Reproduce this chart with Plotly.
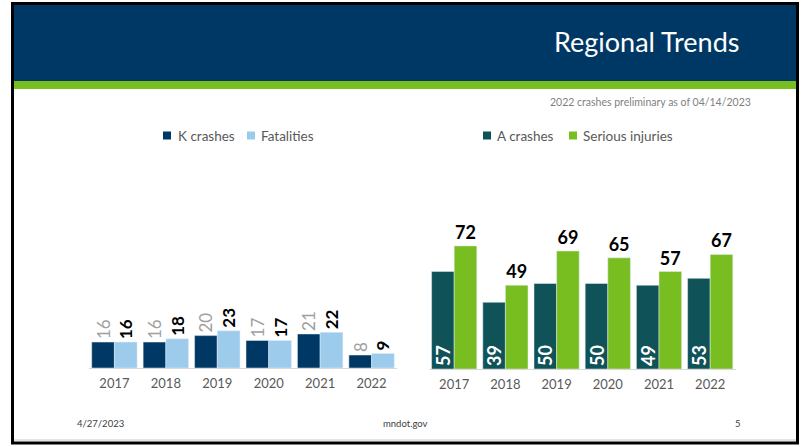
import plotly.graph_objects as go

W, H = 808, 447

years = ['2017', '2018', '2019', '2020', '2021', '2022']
k_crashes = [16, 16, 20, 17, 21, 8]
fatalities = [16, 18, 23, 17, 22, 9]
a_crashes = [57, 39, 50, 50, 49, 53]
serious_injuries = [72, 49, 69, 65, 57, 67]

NAVY = '#003865'
LIGHT_BLUE = '#9DCBEC'
TEAL = '#0F5257'
GREEN = '#78BE20'
FONT = 'Lato'


def px(x):
    return x / W


def py(y):
    return 1 - y / H


fig = go.Figure()

fig.add_trace(go.Bar(
    x=years, y=k_crashes, name='K crashes', marker_color=NAVY,
    text=k_crashes, textposition='outside', textangle=-90,
    textfont=dict(family=FONT, size=17, color='#A0A0A0'),
    xaxis='x', yaxis='y', cliponaxis=False, constraintext='none'))
fig.add_trace(go.Bar(
    x=years, y=fatalities, name='Fatalities', marker_color=LIGHT_BLUE,
    text=fatalities, textposition='outside', textangle=-90,
    textfont=dict(family=FONT, size=17, color='#000000', weight='bold'),
    xaxis='x', yaxis='y', cliponaxis=False, constraintext='none'))
fig.add_trace(go.Bar(
    x=years, y=a_crashes, name='A crashes', marker_color=TEAL,
    text=a_crashes, textposition='inside', insidetextanchor='start', textangle=-90,
    textfont=dict(family=FONT, size=18, color='#FFFFFF', weight='bold'),
    xaxis='x2', yaxis='y2', cliponaxis=False, constraintext='none'))
fig.add_trace(go.Bar(
    x=years, y=serious_injuries, name='Serious injuries', marker_color=GREEN,
    text=serious_injuries, textposition='outside', textangle=0,
    textfont=dict(family=FONT, size=18, color='#000000', weight='bold'),
    xaxis='x2', yaxis='y2', cliponaxis=False, constraintext='none'))

xax = dict(showgrid=False, showline=True, linecolor='#D9D9D9', linewidth=1,
           ticks='', tickfont=dict(family=FONT, size=13, color='#595959'),
           ticklabelstandoff=3, fixedrange=True)
yax = dict(showgrid=False, showline=False, showticklabels=False, zeroline=False,
           ticks='', fixedrange=True)

shapes = [
    dict(type='rect', xref='paper', yref='paper', x0=px(14), x1=px(796),
         y0=py(5), y1=py(81), fillcolor=NAVY, line_width=0, layer='below'),
    dict(type='rect', xref='paper', yref='paper', x0=px(14), x1=px(796),
         y0=py(81), y1=py(89), fillcolor=GREEN, line_width=0, layer='below'),
    dict(type='line', xref='paper', yref='paper', x0=px(14), x1=px(796),
         y0=py(440), y1=py(440), line=dict(color='#C8C8C8', width=1)),
    dict(type='rect', xref='paper', yref='paper', x0=px(12.5), x1=px(797.5),
         y0=py(3.5), y1=py(443), fillcolor='rgba(0,0,0,0)',
         line=dict(color='#000000', width=3)),
]

annotations = [
    dict(text='Regional Trends', xref='paper', yref='paper', x=px(741), y=py(42),
         xanchor='right', yanchor='middle', showarrow=False,
         font=dict(family=FONT, size=27, color='#FFFFFF')),
    dict(text='2022 crashes preliminary as of 04/14/2023', xref='paper', yref='paper',
         x=px(753), y=py(102), xanchor='right', yanchor='middle', showarrow=False,
         font=dict(family=FONT, size=10.5, color='#7F7F7F')),
    dict(text='4/27/2023', xref='paper', yref='paper', x=px(75), y=py(423),
         xanchor='left', yanchor='middle', showarrow=False,
         font=dict(family=FONT, size=9.5, color='#404040')),
    dict(text='mndot.gov', xref='paper', yref='paper', x=px(405), y=py(423),
         xanchor='center', yanchor='middle', showarrow=False,
         font=dict(family=FONT, size=9.5, color='#404040')),
    dict(text='5', xref='paper', yref='paper', x=px(738), y=py(423),
         xanchor='center', yanchor='middle', showarrow=False,
         font=dict(family=FONT, size=9.5, color='#404040')),
]

# legend entries: (label, colour, swatch left x, text left x)
legend_items = [
    ('K crashes', NAVY, 163, 176),
    ('Fatalities', LIGHT_BLUE, 247, 259),
    ('A crashes', TEAL, 483, 495),
    ('Serious injuries', GREEN, 569, 581),
]
LEG_Y = 135.5
for label, col, sx, tx in legend_items:
    shapes.append(dict(type='rect', xref='paper', yref='paper', x0=px(sx), x1=px(sx + 8),
                       y0=py(LEG_Y + 4), y1=py(LEG_Y - 4), fillcolor=col, line_width=0))
    annotations.append(dict(text=label, xref='paper', yref='paper', x=px(tx), y=py(LEG_Y),
                            xanchor='left', yanchor='middle', showarrow=False,
                            font=dict(family=FONT, size=13.5, color='#595959')))

fig.update_layout(
    width=W, height=H, margin=dict(l=0, r=0, t=0, b=0, pad=0),
    paper_bgcolor='#FFFFFF', plot_bgcolor='rgba(0,0,0,0)',
    barmode='group', bargap=0.117, bargroupgap=0,
    xaxis=dict(xax, domain=[px(88.7), px(397.3)], anchor='y'),
    yaxis=dict(yax, domain=[py(368), py(150)], range=[0, 218 / 1.62], anchor='x'),
    xaxis2=dict(xax, domain=[px(428.6), px(735.8)], anchor='y2'),
    yaxis2=dict(yax, domain=[py(369), py(150)], range=[0, 219 / 1.71], anchor='x2'),
    shapes=shapes, annotations=annotations,
    font=dict(family=FONT), showlegend=False,
)

fig.write_html('out.html', config={'displayModeBar': False},
               post_script="document.body.style.margin='0';document.body.style.overflow='hidden';")
